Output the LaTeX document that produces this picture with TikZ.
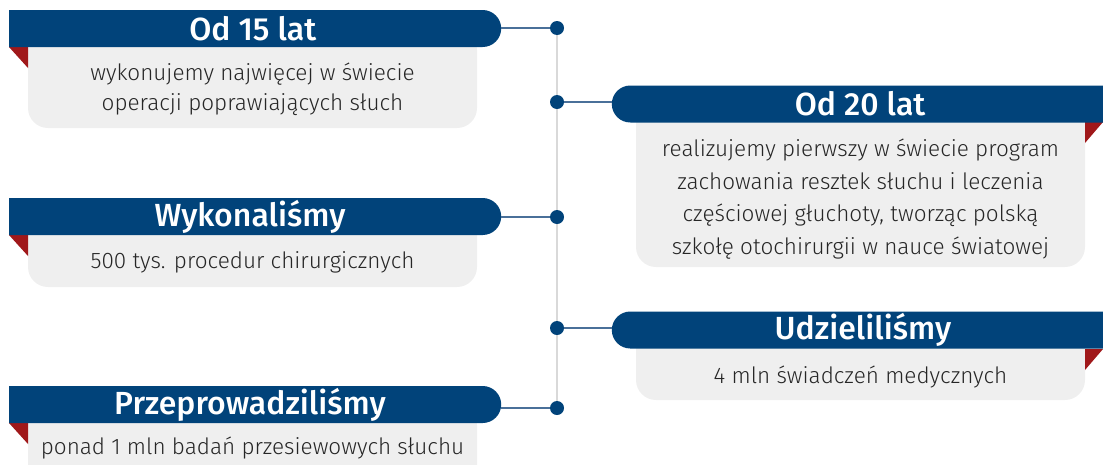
\documentclass[tikz,border=0pt]{standalone}
\usepackage{fontspec}
\setmainfont{Fira Sans Light}
\newfontfamily\headfont{Fira Sans Medium}
\usepackage{xcolor}
\usepackage{tikz}
\usetikzlibrary{shapes.misc,backgrounds}

\definecolor{headblue}{HTML}{01437A}
\definecolor{linkblue}{HTML}{4A7099}
\definecolor{spinegrey}{HTML}{D9D9D9}
\definecolor{bodygrey}{HTML}{EFEFEF}
\definecolor{foldred}{HTML}{A0181A}
\definecolor{bodyink}{HTML}{262626}

\begin{document}
\begin{tikzpicture}[x=1pt,y=-1pt,
  head/.style={rounded rectangle,fill=headblue,text=white,inner sep=0pt,
    minimum height=37pt,minimum width=492pt,
    font=\headfont\fontsize{32}{32}\selectfont},
  headL/.style={head,rounded rectangle west arc=none,anchor=west},
  headR/.style={head,rounded rectangle east arc=none,anchor=east},
  bodytext/.style={text=bodyink,align=center,inner sep=0pt},
  dot/.style={circle,fill=headblue,minimum size=14pt,inner sep=0pt},
  link/.style={linkblue,line width=2pt},
  spine/.style={spinegrey,line width=2.5pt}]
  \useasboundingbox (0,0) rectangle (1103,464);
  \clip (0,0) rectangle (1103,464);
  % szare pola
  \fill[bodygrey,rounded corners=20] (28,30) rectangle (477,128);
  \fill[bodygrey,rounded corners=20] (636,100) rectangle (1085,267);
  \fill[bodygrey,rounded corners=20] (28,215) rectangle (477,287);
  \fill[bodygrey,rounded corners=20] (636,330) rectangle (1085,400);
  \fill[bodygrey,rounded corners=20] (28,405) rectangle (477,490);
  % czerwone zakladki
  \fill[foldred] (9,47) -- (28,47) -- (28,68) -- cycle;
  \fill[foldred] (1103,122) -- (1085,122) -- (1085,143) -- cycle;
  \fill[foldred] (9,235) -- (28,235) -- (28,256) -- cycle;
  \fill[foldred] (1103,349) -- (1085,349) -- (1085,370) -- cycle;
  \fill[foldred] (9,423) -- (28,423) -- (28,444) -- cycle;
  % naglowki
  \node[headL] (h1) at (9,28.5) {Od 15 lat};
  \node[headR] (h2) at (1104,104) {Od 20 lat};
  \node[headL] (h3) at (9,216.5) {Wykonaliśmy};
  \node[headR] (h4) at (1104,330) {Udzieliliśmy};
  \node[headL] (h5) at (9,404.5) {Przeprowadziliśmy};
  % opisy
  \node[bodytext,font=\fontsize{22.5}{30}\selectfont] (t1) at (252.5,89)
    {wykonujemy najwięcej w świecie\\operacji poprawiających słuch};
  \node[bodytext,font=\fontsize{22.5}{32.5}\selectfont] (t2) at (860.5,199)
    {realizujemy pierwszy w świecie program\\zachowania resztek słuchu i leczenia\\częściowej głuchoty, tworząc polską\\szkołę otochirurgii w nauce światowej};
  \node[bodytext,font=\fontsize{22.5}{30}\selectfont] (t3) at (252.5,262)
    {500 tys. procedur chirurgicznych};
  \node[bodytext,font=\fontsize{22.5}{30}\selectfont] (t4) at (860.5,377)
    {4 mln świadczeń medycznych};
  \node[bodytext,font=\fontsize{22.5}{30}\selectfont] (t5) at (252.5,448)
    {ponad 1 mln badań przesiewowych słuchu};
  % os czasu
  \node[dot] (d1) at (557,28) {};
  \node[dot] (d2) at (557,102) {};
  \node[dot] (d3) at (557,217) {};
  \node[dot] (d4) at (557,328) {};
  \node[dot] (d5) at (557,408) {};
  \begin{pgfonlayer}{background}
    \draw[spine] (d1) -- (d5);
  \end{pgfonlayer}
  \draw[link] (d1 -| h1.east) -- (d1.west);
  \draw[link] (d2.east) -- (d2 -| h2.west);
  \draw[link] (d3 -| h3.east) -- (d3.west);
  \draw[link] (d4.east) -- (d4 -| h4.west);
  \draw[link] (d5 -| h5.east) -- (d5.west);
\end{tikzpicture}
\end{document}
